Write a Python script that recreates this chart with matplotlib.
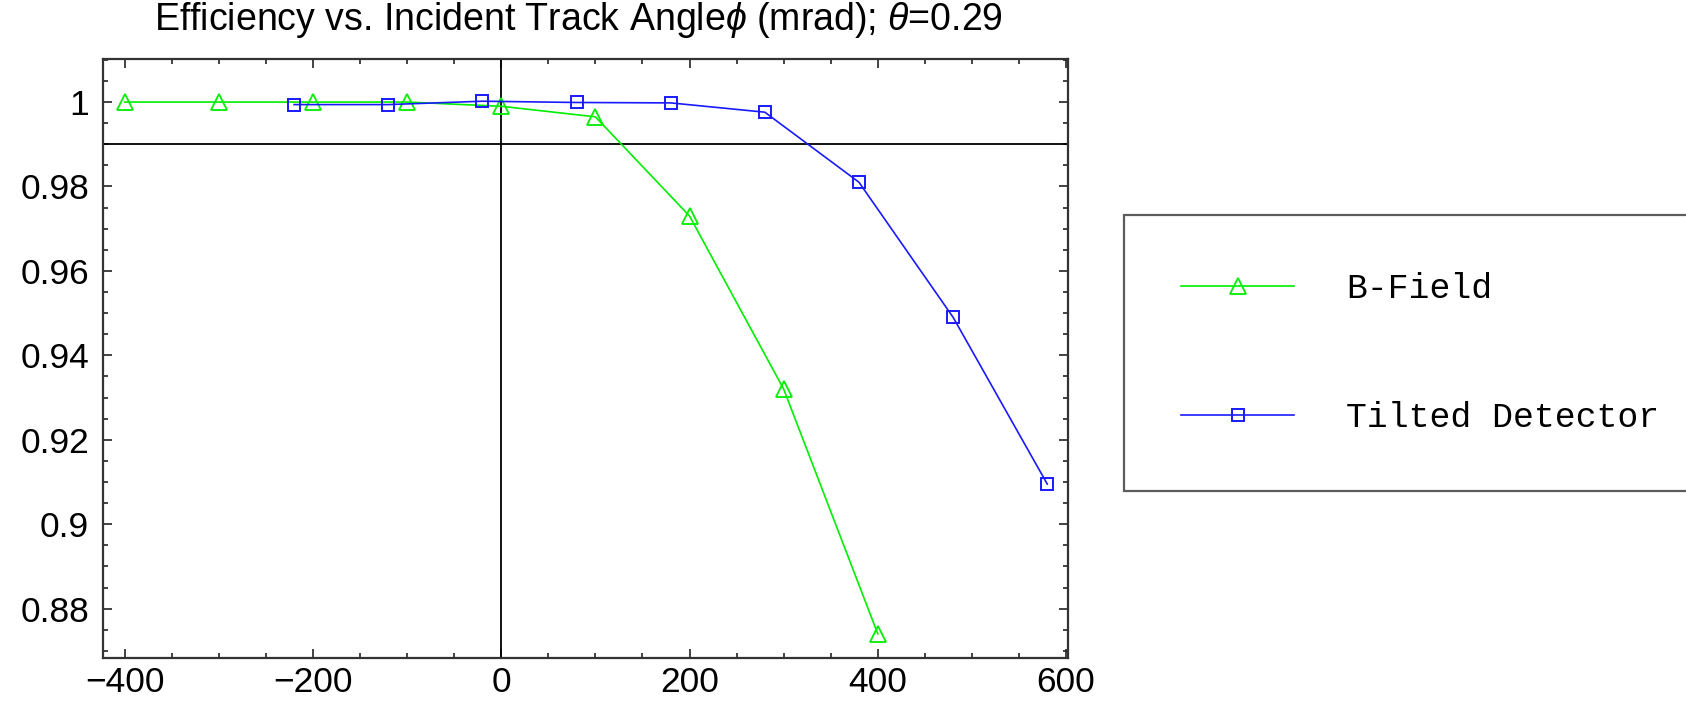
import matplotlib
matplotlib.use('Agg')
import matplotlib.pyplot as plt
from matplotlib import font_manager
from matplotlib.ticker import MultipleLocator, FixedLocator

# data
bfield_x = [-400, -300, -200, -100, 0, 100, 200, 300, 400]
bfield_y = [1.0, 1.0, 1.0, 1.0, 0.999, 0.9965, 0.973, 0.932, 0.874]
tilted_x = [-220, -120, -20, 80, 180, 280, 380, 480, 580]
tilted_y = [0.9994, 0.9994, 1.0002, 0.9999, 0.9998, 0.9976, 0.981, 0.949, 0.9095]
x_ticks = [-400, -200, 0, 200, 400, 600]
y_ticks = [0.88, 0.9, 0.92, 0.94, 0.96, 0.98, 1.0]
y_labels = ['0.88', '0.9', '0.92', '0.94', '0.96', '0.98', '1']
labels = ['B-Field', 'Tilted Detector']

names = {f.name for f in font_manager.fontManager.ttflist}
title_font = 'Liberation Sans Narrow' if 'Liberation Sans Narrow' in names else 'Liberation Sans'

plt.rcParams['font.family'] = ['Liberation Sans', 'DejaVu Sans']
plt.rcParams['mathtext.fontset'] = 'custom'
plt.rcParams['mathtext.rm'] = title_font
plt.rcParams['mathtext.it'] = title_font + ':italic'

fig = plt.figure(figsize=(16.86, 7.02), dpi=100)
ax = fig.add_axes([103 / 1686, 1 - 658 / 702, (1068 - 103) / 1686, (658 - 59) / 702])

ax.plot(bfield_x, bfield_y, color='#00ee00', lw=1.2, marker='^', ms=11,
        mfc='none', mec='#00ee00', mew=1.3, label=labels[0], zorder=3)
ax.plot(tilted_x, tilted_y, color='#1a1aff', lw=1.2, marker='s', ms=8.5,
        mfc='none', mec='#1a1aff', mew=1.4, label=labels[1], zorder=4)

# axes crossing at (0, 0.99)
ax.axhline(0.99, color='black', lw=1.3, zorder=2)
ax.axvline(0, color='black', lw=1.3, zorder=2)

ax.set_xlim(-423, 602)
ax.set_ylim(0.8683, 1.0102)
ax.xaxis.set_major_locator(FixedLocator(x_ticks))
ax.xaxis.set_minor_locator(MultipleLocator(50))
ax.yaxis.set_major_locator(FixedLocator(y_ticks))
ax.set_yticklabels(y_labels)
ax.yaxis.set_minor_locator(MultipleLocator(0.005))
ax.tick_params(which='both', direction='in', top=True, right=True, width=1.2,
               color='#222222')
ax.tick_params(which='major', length=6.5, labelsize=25.5)
ax.tick_params(axis='y', which='major', pad=10)
ax.tick_params(axis='x', which='major', pad=6)
ax.tick_params(which='minor', length=3.5)
for s in ax.spines.values():
    s.set_linewidth(1.6)
    s.set_color('#333333')

fig.text(578 / 1686, 1 - 20 / 702,
         r'Efficiency vs. Incident Track Angle$\phi$ (mrad); $\theta$=0.29',
         ha='center', va='center', fontsize=27, family=title_font)

handles, labs = ax.get_legend_handles_labels()
leg = fig.legend(handles, labs, bbox_to_anchor=(1124 / 1686, 1 - 498 / 702, 0.5, 283 / 702),
                 loc='upper left', mode='expand',
                 prop={'family': 'Liberation Mono', 'size': 25},
                 frameon=True, fancybox=False, borderpad=1.65, labelspacing=2.75,
                 handlelength=3.25, handletextpad=1.5, borderaxespad=0)
leg.get_frame().set_edgecolor('#333333')
leg.get_frame().set_linewidth(1.6)

fig.savefig('out.png', dpi=100)
